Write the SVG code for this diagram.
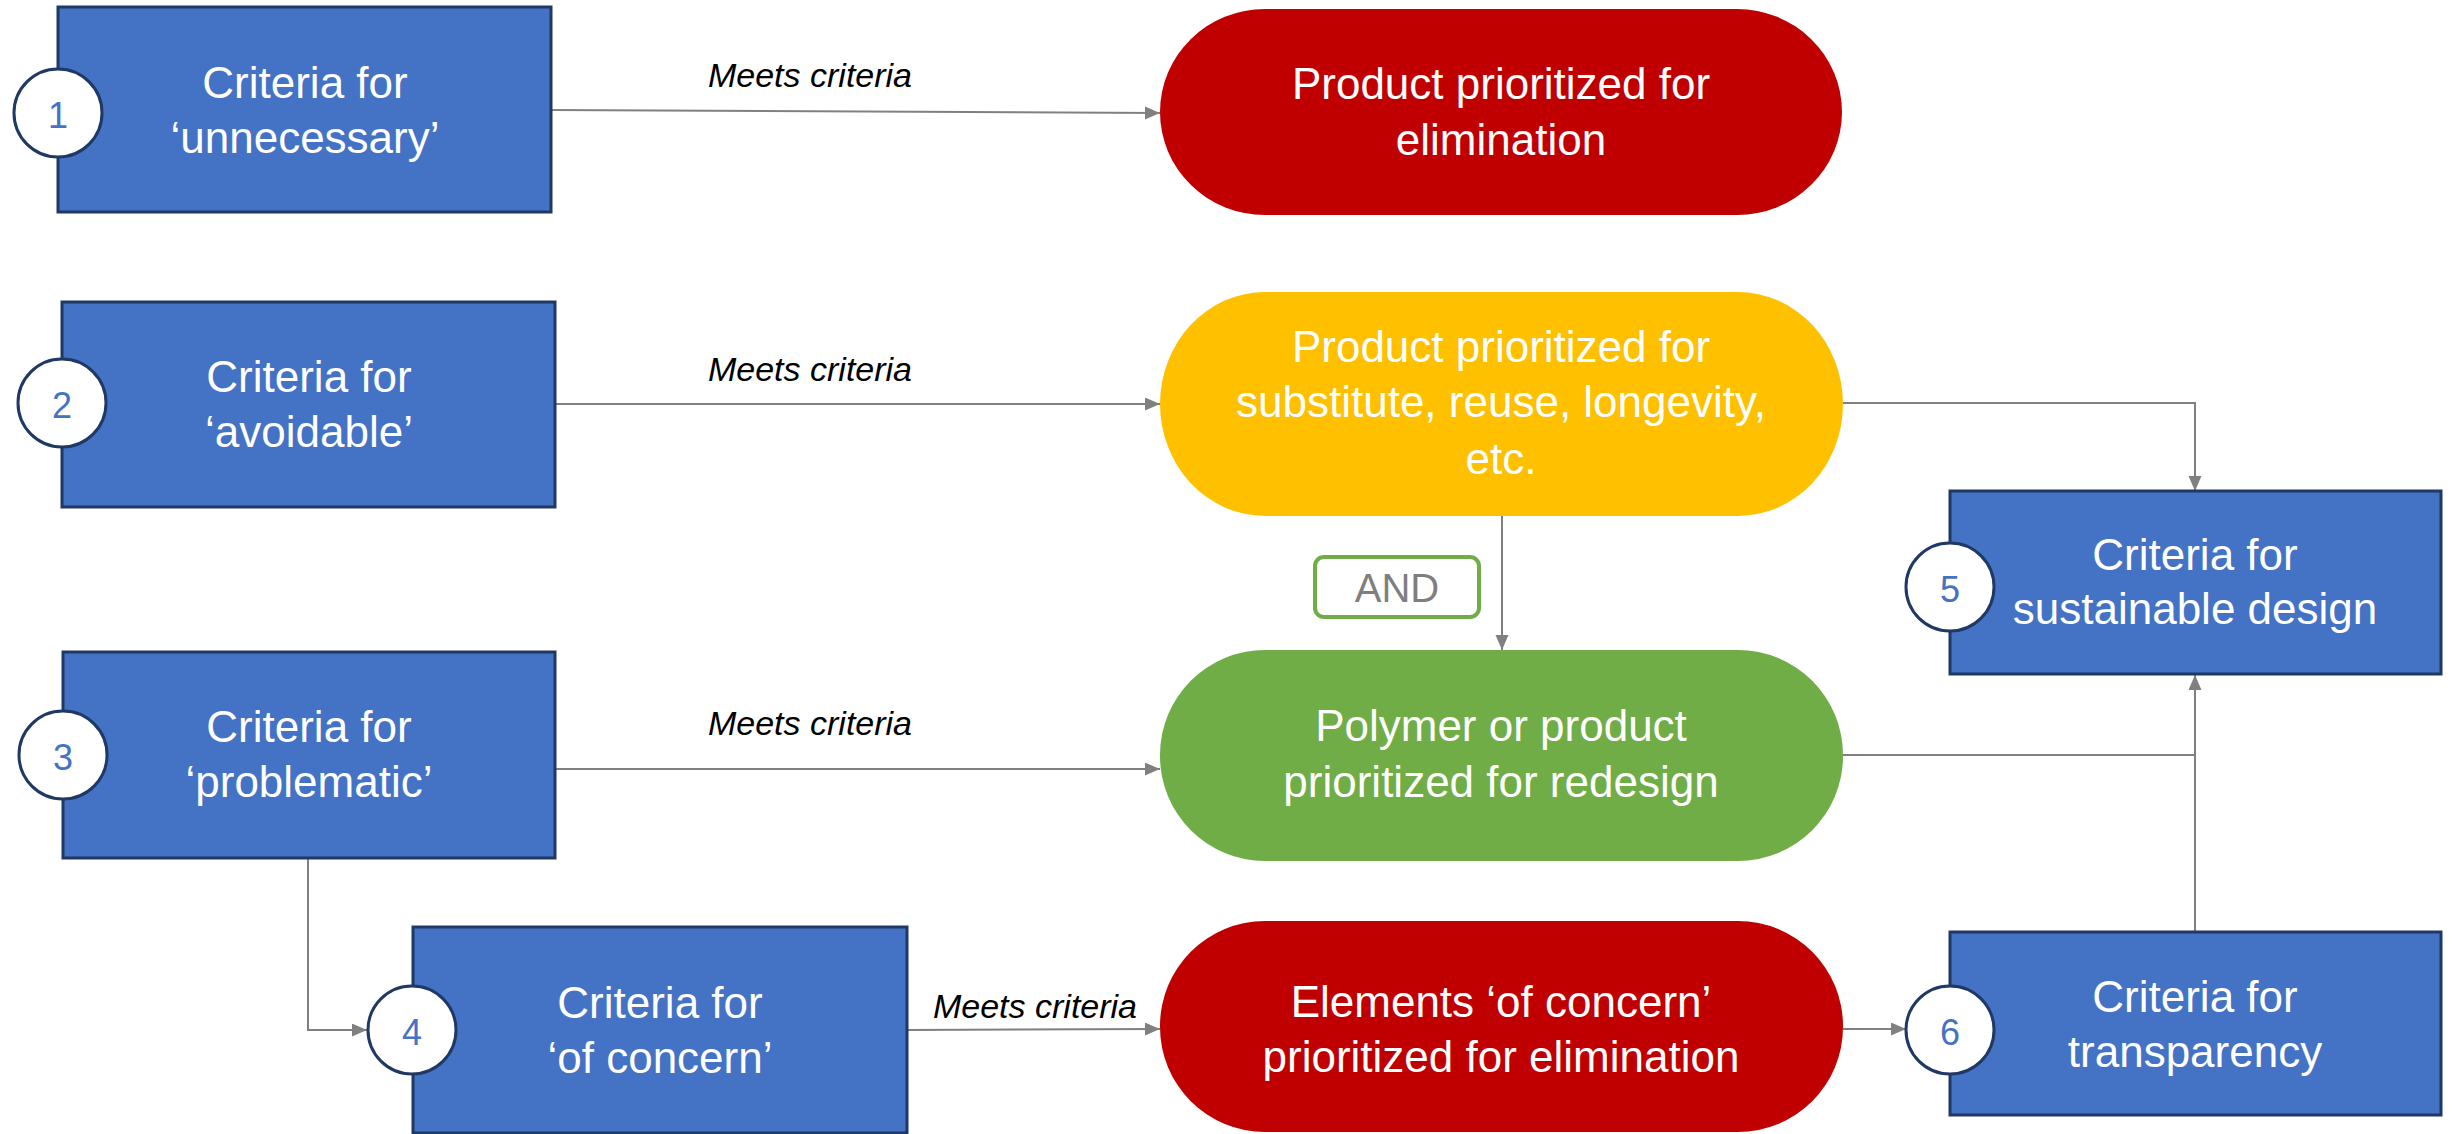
<svg xmlns="http://www.w3.org/2000/svg" width="2455" height="1134" viewBox="0 0 2455 1134">
<style>
.box{fill:#4472C4;stroke:#1F3864;stroke-width:3}
.num{fill:#fff;stroke:#1F3864;stroke-width:3}
.numt{font-family:"Liberation Sans",Arial,sans-serif;font-size:36px;fill:#4472C4;text-anchor:middle}
.t{font-family:"Liberation Sans",Arial,sans-serif;font-size:44px;fill:#fff;text-anchor:middle}
.lbl{font-family:"Liberation Sans",Arial,sans-serif;font-size:34px;font-style:italic;fill:#000;text-anchor:middle}
.c{fill:none;stroke:#808080;stroke-width:2}
</style>
<defs>
<marker id="ah" markerUnits="userSpaceOnUse" markerWidth="16" markerHeight="14" refX="15" refY="6.5" orient="auto">
<path d="M0,0 L15,6.5 L0,13 z" fill="#808080"/>
</marker>
</defs>
<rect width="2455" height="1134" fill="#fff"/>
<g id="connectors">
<path class="c" d="M551,110 L1160,113" marker-end="url(#ah)"/>
<path class="c" d="M556,404 L1160,404" marker-end="url(#ah)"/>
<path class="c" d="M555,769 L1160,769" marker-end="url(#ah)"/>
<path class="c" d="M308,858 L308,1030 L367,1030" marker-end="url(#ah)"/>
<path class="c" d="M907,1030 L1160,1029" marker-end="url(#ah)"/>
<path class="c" d="M1843,1029 L1906,1029" marker-end="url(#ah)"/>
<path class="c" d="M1502,516 L1502,650" marker-end="url(#ah)"/>
<path class="c" d="M1843,403 L2195,403 L2195,491" marker-end="url(#ah)"/>
<path class="c" d="M1843,755 L2195,755"/>
<path class="c" d="M2195,932 L2195,675" marker-end="url(#ah)"/>
<text class="lbl" x="810" y="87">Meets criteria</text>
<text class="lbl" x="810" y="381">Meets criteria</text>
<text class="lbl" x="810" y="735">Meets criteria</text>
<text class="lbl" x="1035" y="1018">Meets criteria</text>
</g>
<g id="n1">
<rect class="box" x="58" y="7" width="493" height="205"/>
<text class="t" x="305" y="98">Criteria for</text>
<text class="t" x="305" y="153">‘unnecessary’</text>
<circle class="num" cx="58" cy="113" r="44"/>
<text class="numt" x="58" y="128">1</text>
</g>
<g id="n2">
<rect class="box" x="62" y="302" width="493" height="205"/>
<text class="t" x="309" y="392">Criteria for</text>
<text class="t" x="309" y="447">‘avoidable’</text>
<circle class="num" cx="62" cy="403" r="44"/>
<text class="numt" x="62" y="418">2</text>
</g>
<g id="n3">
<rect class="box" x="63" y="652" width="492" height="206"/>
<text class="t" x="309" y="742">Criteria for</text>
<text class="t" x="309" y="797">‘problematic’</text>
<circle class="num" cx="63" cy="755" r="44"/>
<text class="numt" x="63" y="770">3</text>
</g>
<g id="n4">
<rect class="box" x="413" y="927" width="494" height="206"/>
<text class="t" x="660" y="1018">Criteria for</text>
<text class="t" x="660" y="1073">‘of concern’</text>
<circle class="num" cx="412" cy="1030" r="44"/>
<text class="numt" x="412" y="1045">4</text>
</g>
<g id="n5">
<rect class="box" x="1950" y="491" width="491" height="183"/>
<text class="t" x="2195" y="570">Criteria for</text>
<text class="t" x="2195" y="624">sustainable design</text>
<circle class="num" cx="1950" cy="587" r="44"/>
<text class="numt" x="1950" y="602">5</text>
</g>
<g id="n6">
<rect class="box" x="1950" y="932" width="491" height="183"/>
<text class="t" x="2195" y="1012">Criteria for</text>
<text class="t" x="2195" y="1067">transparency</text>
<circle class="num" cx="1950" cy="1030" r="44"/>
<text class="numt" x="1950" y="1045">6</text>
</g>
<g id="r1">
<rect x="1160" y="9" width="682" height="206" rx="105" ry="103" fill="#C00000"/>
<text class="t" x="1501" y="99">Product prioritized for</text>
<text class="t" x="1501" y="155">elimination</text>
</g>
<g id="r2">
<rect x="1160" y="292" width="683" height="224" rx="105" ry="112" fill="#FFC000"/>
<text class="t" x="1501" y="362">Product prioritized for</text>
<text class="t" x="1501" y="417">substitute, reuse, longevity,</text>
<text class="t" x="1501" y="474">etc.</text>
</g>
<g id="r3">
<rect x="1160" y="650" width="683" height="211" rx="105" ry="105" fill="#70AD47"/>
<text class="t" x="1501" y="741">Polymer or product</text>
<text class="t" x="1501" y="797">prioritized for redesign</text>
</g>
<g id="r4">
<rect x="1160" y="921" width="683" height="211" rx="105" ry="105" fill="#C00000"/>
<text class="t" x="1501" y="1017">Elements ‘of concern’</text>
<text class="t" x="1501" y="1072">prioritized for elimination</text>
</g>
<g id="and">
<rect x="1315" y="557" width="164" height="60" rx="9" fill="#fff" stroke="#70AD47" stroke-width="4"/>
<text x="1397" y="602" font-family="Liberation Sans, Arial, sans-serif" font-size="40" fill="#7F7F7F" text-anchor="middle">AND</text>
</g>
</svg>
